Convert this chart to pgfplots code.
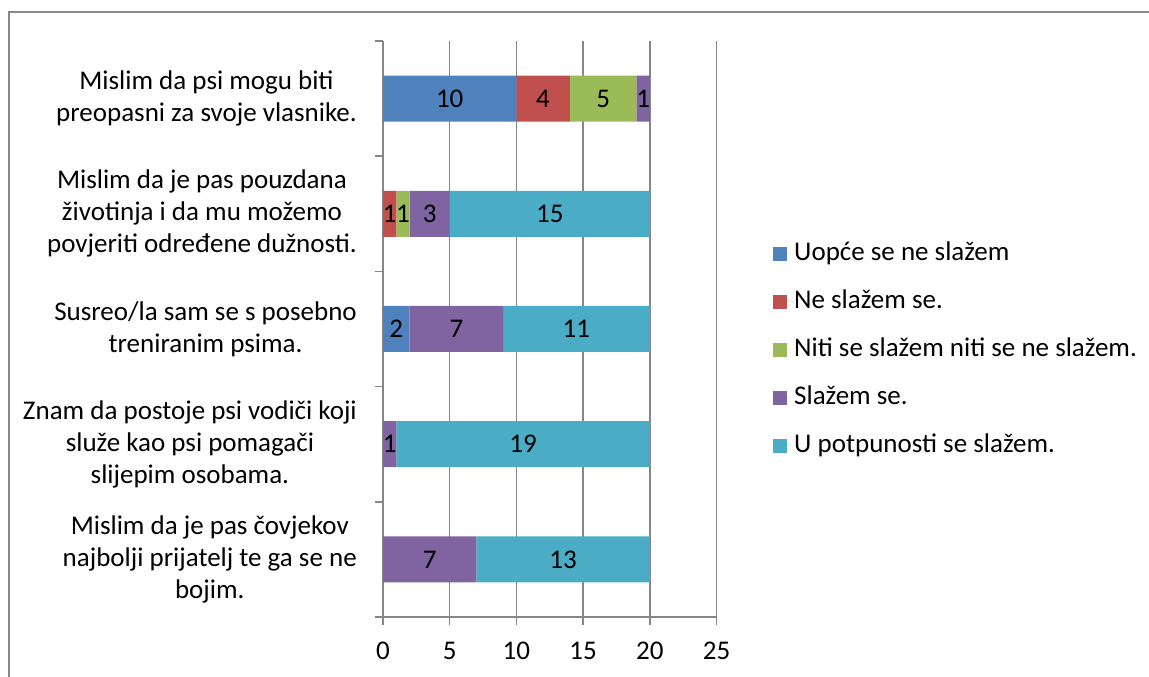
\documentclass[border=0pt]{standalone}
\usepackage{pgfplots}
\pgfplotsset{compat=1.18}
\usepackage{pgfplotstable}
\usepackage{fontspec}
\setmainfont{Carlito}
\definecolor{cA}{HTML}{4F81BD}
\definecolor{cB}{HTML}{C0504D}
\definecolor{cC}{HTML}{9BBB59}
\definecolor{cD}{HTML}{8064A2}
\definecolor{cE}{HTML}{4BACC6}
\definecolor{gridgray}{HTML}{878787}
\newcommand\f{\fontsize{27bp}{32bp}\selectfont}

\pgfplotstableread{
y v
5 10
4 0
3 2
2 0
1 0
}\tA
\pgfplotstableread{
y v
5 4
4 1
3 0
2 0
1 0
}\tB
\pgfplotstableread{
y v
5 5
4 1
3 0
2 0
1 0
}\tC
\pgfplotstableread{
y v
5 1
4 3
3 7
2 1
1 7
}\tD
\pgfplotstableread{
y v
5 0
4 15
3 11
2 19
1 13
}\tE

\pgfplotsset{sq/.style={legend image code/.code={\path (0bp,0bp) -- (21bp,0bp);\fill[##1] (0bp,-7bp) rectangle (14bp,7bp);}}}

\begin{document}
\begin{tikzpicture}
\useasboundingbox (0,0) rectangle (1149bp,677bp);
\draw[gridgray, line width=1.5bp] (9bp,-5bp) -- (9bp,665bp) -- (1155bp,665bp);
\begin{axis}[
  at={(383bp,60bp)}, anchor=south west,
  scale only axis, width=333.5bp, height=576bp,
  xbar stacked, bar width=46bp,
  xmin=0, xmax=25, ymin=0.5, ymax=5.5,
  xtick={0,5,...,25},
  ytick={0.5,1.5,...,5.5}, yticklabels={},
  extra y ticks={1,2,3,4,5},
  extra y tick labels={{Mislim da je pas čovjekov\\najbolji prijatelj te ga se ne\\bojim.},{Znam da postoje psi vodiči koji\\služe kao psi pomagači\\slijepim osobama.},{Susreo/la sam se s posebno\\treniranim psima.},{Mislim da je pas pouzdana\\životinja i da mu možemo\\povjeriti određene dužnosti.},{Mislim da psi mogu biti\\preopasni za svoje vlasnike.}},
  extra y tick style={major tick length=0pt},
  axis lines=left, axis line style={-, draw=gridgray, line width=1.5bp},
  xmajorgrids, grid style={gridgray, line width=1.5bp},
  tick style={gridgray, line width=1.5bp},
  major tick length=8bp, tick align=outside,
  /pgf/number format/assume math mode=true,
  tick label style={font=\f, black},
  yticklabel style={align=center, inner sep=0pt, xshift=-26bp},
  xticklabel style={inner sep=0pt, yshift=-17bp},
  visualization depends on={\thisrow{v} \as \val},
  nodes near coords={\ifdim\val pt=0pt\else\pgfmathprintnumber{\val}\fi},
  every node near coord/.append style={anchor=center, font=\f, inner sep=0pt, black},
  legend style={at={(1.1694,0.464)}, anchor=west, draw=none, fill=none, font=\f, inner sep=0pt, row sep=23bp, nodes={inner sep=0pt, text height=19bp, text depth=6bp}},
  legend cell align=left,
]
\addplot[fill=cA, draw=none, sq] table[x=v,y=y]{\tA};
\addplot[fill=cB, draw=none, sq] table[x=v,y=y]{\tB};
\addplot[fill=cC, draw=none, sq] table[x=v,y=y]{\tC};
\addplot[fill=cD, draw=none, sq] table[x=v,y=y]{\tD};
\addplot[fill=cE, draw=none, sq] table[x=v,y=y]{\tE};
\legend{Uopće se ne slažem, Ne slažem se., Niti se slažem niti se ne slažem., Slažem se., U potpunosti se slažem.}
\end{axis}
\end{tikzpicture}
\end{document}
